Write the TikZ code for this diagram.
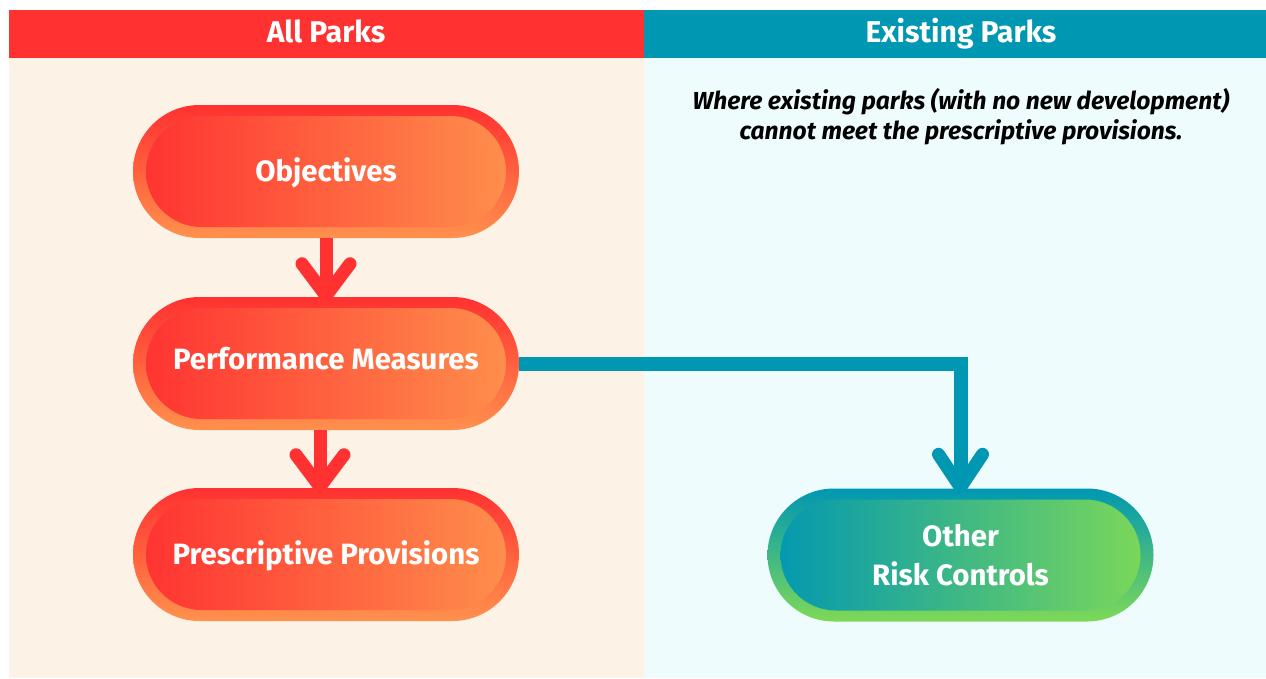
\documentclass[tikz,border=0pt]{standalone}
\usepackage{fontspec}
\setmainfont{Fira Sans}
\definecolor{hred}{HTML}{FF3131}
\definecolor{hteal}{HTML}{0097B2}
\definecolor{cream}{HTML}{FDF2E6}
\definecolor{lcyan}{HTML}{EFFCFE}
\definecolor{orng}{HTML}{FF914D}
\definecolor{grn}{HTML}{7ED957}
\tikzset{
  pillbase/.style={minimum width=386pt, minimum height=133pt, rounded corners=66.5pt,
    inner sep=0pt, text=white, font=\fontsize{29.4}{39}\selectfont\bfseries, align=center},
  redpill/.style={pillbase, text height=20.3pt, text depth=0pt, top color=hred, bottom color=orng,
    path picture={\shade[left color=hred, right color=orng, rounded corners=55.5pt]
      ([xshift=13pt,yshift=11pt]path picture bounding box.south west) rectangle
      ([xshift=-13pt,yshift=-11pt]path picture bounding box.north east);}},
  greenpill/.style={pillbase, top color=hteal, bottom color=grn,
    path picture={\shade[left color=hteal, right color=grn, rounded corners=55.5pt]
      ([xshift=13pt,yshift=11pt]path picture bounding box.south west) rectangle
      ([xshift=-13pt,yshift=-11pt]path picture bounding box.north east);}},
  redline/.style={draw=hred, line width=13pt},
  redarm/.style={draw=hred, line width=13pt, line cap=round, line join=round},
  tealline/.style={draw=hteal, line width=14pt, line join=miter},
  tealarm/.style={draw=hteal, line width=13pt, line cap=round, line join=round},
  headtxt/.style={text=white, font=\fontsize{30}{36}\selectfont\bfseries, text height=20.7pt, text depth=0pt, inner sep=0pt},
}
\begin{document}
\begin{tikzpicture}[x=1pt,y=-1pt]
\useasboundingbox (0,0) rectangle (1266,678);
\fill[white] (0,0) rectangle (1266,678);
% panels
\fill[cream] (9,58) rectangle (644,678);
\fill[lcyan] (644,58) rectangle (1266,678);
\fill[hred] (9,10) rectangle (644,58);
\fill[hteal] (644,10) rectangle (1266,58);
\node[headtxt] (h1) at (326,32.5) {All Parks};
\node[headtxt] (h2) at (961,32.5) {Existing Parks};
\node[font=\fontsize{24.6}{30}\selectfont\bfseries\itshape, align=center, text=black, inner sep=0pt] (note) at (961,116.5)
  {Where existing parks (with no new development)\\cannot meet the prescriptive provisions.};
% pills
\node[redpill] (obj) at (326,171.5) {Objectives};
\node[redpill] (perf) at (326,363.5) {\raisebox{4pt}{Performance Measures}};
\node[redpill] (pres) at (326,554.5) {Prescriptive Provisions};
\node[greenpill] (oth) at (960.5,555) {Other\\Risk Controls};
% arrows
\draw[redline] (obj.south) -- ([yshift=1pt]perf.north);
\draw[redarm] ([xshift=-24pt,yshift=33pt]perf.north) -- ([yshift=1pt]perf.north) -- ([xshift=24pt,yshift=33pt]perf.north);
\draw[redline] ([xshift=-6pt]perf.south) -- ([xshift=-6pt,yshift=1pt]pres.north);
\draw[redarm] ([xshift=-30pt,yshift=33pt]pres.north) -- ([xshift=-6pt,yshift=1pt]pres.north) -- ([xshift=18pt,yshift=33pt]pres.north);
\draw[tealline] (perf.east) -| ([yshift=1pt]oth.north);
\draw[tealarm] ([xshift=-22pt,yshift=34pt]oth.north) -- ([yshift=1pt]oth.north) -- ([xshift=22pt,yshift=34pt]oth.north);
\end{tikzpicture}
\end{document}
